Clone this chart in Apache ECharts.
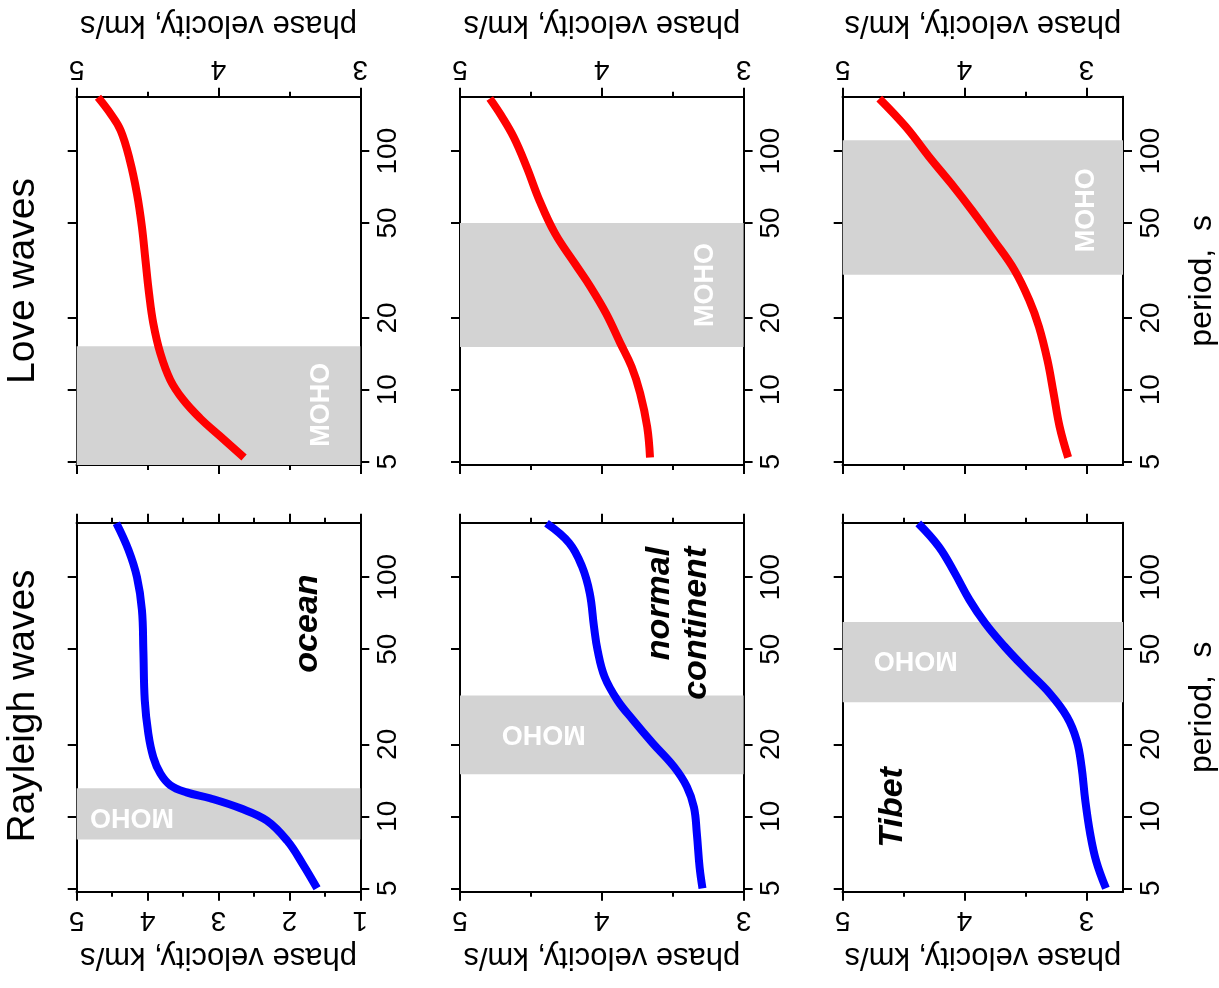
<!DOCTYPE html>
<html>

<head>
    <meta charset="utf-8" />
    <title>Surface wave dispersion</title>
    <script src="https://cdn.jsdelivr.net/npm/echarts@6/dist/echarts.min.js"></script>
    <style>
        html, body { margin: 0; padding: 0; background: #fff; }
        #main { width: 1219px; height: 988px; }
    </style>
</head>

<body>
    <div id="main"></div>
    <script type="text/javascript">
        // tick labels
        var periodTicks = [5, 10, 20, 50, 100];
        var velMajorTicks = [1, 2, 3, 4, 5];
        var velMinorTicks = [1.5, 2.5, 3.5, 4.5];
        var regionNames = ['ocean', 'normal\ncontinent', 'Tibet'];

        // Rayleigh waves: period (s) / phase velocity (km/s)
        var rayOceanT = [5, 6.3, 7.9, 9.6, 10.8, 11.9, 12.6, 13.5, 15.1, 17.7, 22.2, 30.6, 49.6, 72.9, 100, 130, 168];
        var rayOceanV = [1.61, 1.81, 2.03, 2.32, 2.69, 3.12, 3.45, 3.68, 3.82, 3.92, 3.99, 4.04, 4.06, 4.08, 4.15, 4.27, 4.44];
        var rayNormalT = [5.0, 6.1, 8.5, 10.9, 13.3, 16.1, 20.2, 25.3, 30.6, 38.3, 49.6, 62.1, 85.7, 111, 139, 168];
        var rayNormalV = [3.29, 3.31, 3.33, 3.35, 3.40, 3.49, 3.64, 3.78, 3.89, 3.98, 4.03, 4.055, 4.085, 4.14, 4.23, 4.39];
        var rayTibetT = [5.0, 6.5, 8.5, 11.7, 16.1, 20.8, 26.1, 32.6, 40.9, 51.2, 64.1, 80.4, 104, 134, 168];
        var rayTibetV = [2.84, 2.92, 2.97, 3.01, 3.04, 3.08, 3.16, 3.30, 3.49, 3.67, 3.83, 3.96, 4.08, 4.21, 4.38];

        // Love waves
        var loveOceanT = [5.2, 6.4, 7.6, 9.1, 11.0, 14.2, 19.0, 25.4, 34.9, 48.1, 66.3, 91.4, 122, 143, 168];
        var loveOceanV = [3.82, 3.99, 4.13, 4.25, 4.34, 4.41, 4.46, 4.49, 4.515, 4.54, 4.575, 4.625, 4.69, 4.76, 4.85];
        var loveNormalT = [5.2, 7.0, 9.7, 12.5, 15.7, 20.9, 27.0, 33.8, 45.2, 62.2, 85.8, 114, 141, 166];
        var loveNormalV = [3.66, 3.68, 3.73, 3.79, 3.87, 3.97, 4.08, 4.19, 4.33, 4.44, 4.53, 4.62, 4.71, 4.79];
        var loveTibetT = [5.2, 7.0, 9.7, 13.3, 18.4, 23.8, 31.7, 42.3, 56.5, 73.1, 94.5, 126, 166];
        var loveTibetV = [3.15, 3.22, 3.27, 3.32, 3.39, 3.47, 3.59, 3.76, 3.94, 4.11, 4.29, 4.48, 4.70];

        // Moho period bands (s)
        var periodMin = 4.84, periodMax = 169;
        var rayMoho = [[8.0, 13.1], [15.0, 32.0], [30.0, 65.0]];
        var loveMoho = [[periodMin, 15.2], [15.1, 50.0], [30.3, 111]];

        // label anchor points [velocity, period]
        var rayMohoPos = [[4.22, 10.0], [4.41, 22.2], [4.40, 45.3]];
        var loveMohoPos = [[3.27, 8.65], [3.27, 27.5], [3.0, 56.5]];
        var regionPos = [[1.75, 64], [3.46, 134], [4.59, 10.9]];

        var velMin = { love: [3, 3, 2.7], ray: [1, 3, 2.7] };

        var FONT = "'Liberation Sans', Arial, sans-serif";
        var lg = function (t) { return Math.log10(t); };

        var colLeft = [76.7, 460, 842.7];
        var colWidth = 283.6;
        var rowTop = { love: 96.7, ray: 522.7 };
        var rowHeight = { love: 368.3, ray: 369 };

        var grids = [], xAxes = [], yAxes = [], series = [];

        function addPanel(row, col, T, V, moho, mohoPos, color) {
            var gi = grids.length;
            grids.push({ left: colLeft[col], top: rowTop[row], width: colWidth, height: rowHeight[row], containLabel: false });
            var vmin = velMin[row][col];
            var majors = velMajorTicks.filter(function (v) { return v >= vmin && v <= 5; });
            var minors = velMinorTicks.filter(function (v) { return v >= vmin && v <= 5; });
            var labelSide = row === 'love' ? 'top' : 'bottom';
            var otherSide = row === 'love' ? 'bottom' : 'top';
            var mainX = xAxes.length;
            [[labelSide, majors, 9, true], [otherSide, majors, 9, false],
             [labelSide, minors, 5, false], [otherSide, minors, 5, false]].forEach(function (a) {
                var ax = {
                    type: 'value', gridIndex: gi, position: a[0], inverse: true,
                    min: vmin, max: 5,
                    axisLine: { show: true, onZero: false, lineStyle: { color: '#000', width: 2 } },
                    axisTick: { show: true, length: a[2], customValues: a[1], lineStyle: { color: '#000', width: 2 } },
                    axisLabel: {
                        show: a[3], customValues: a[1], rotate: 180, margin: 14,
                        color: '#000', fontSize: 28, fontFamily: FONT
                    },
                    splitLine: { show: false }
                };
                if (a[3]) {
                    ax.name = 'phase velocity, km/s';
                    ax.nameLocation = 'middle';
                    ax.nameRotate = 180;
                    ax.nameGap = row === 'love' ? 72 : 65;
                    ax.nameTextStyle = { color: '#000', fontSize: 31, fontFamily: FONT, align: 'center', verticalAlign: 'middle' };
                }
                xAxes.push(ax);
            });
            var mainY = yAxes.length;
            ['right', 'left'].forEach(function (pos) {
                var ay = {
                    type: 'value', gridIndex: gi, position: pos,
                    min: lg(periodMin), max: lg(periodMax),
                    axisLine: { show: true, onZero: false, lineStyle: { color: '#000', width: 2 } },
                    axisTick: { show: true, length: 9, customValues: periodTicks.map(lg), lineStyle: { color: '#000', width: 2 } },
                    axisLabel: {
                        show: pos === 'right', customValues: periodTicks.map(lg), rotate: 90, margin: 14,
                        color: '#000', fontSize: 28, fontFamily: FONT,
                        formatter: function (v) { return Math.round(Math.pow(10, v)); }
                    },
                    splitLine: { show: false }
                };
                if (pos === 'right' && col === 2) {
                    ay.name = 'period,  s';
                    ay.nameLocation = 'middle';
                    ay.nameRotate = 90;
                    ay.nameGap = 79;
                    ay.nameTextStyle = { color: '#000', fontSize: 32, fontFamily: FONT, align: 'center', verticalAlign: 'middle' };
                }
                yAxes.push(ay);
            });

            var marks = [{
                coord: [mohoPos[0], lg(mohoPos[1])],
                label: {
                    formatter: 'MOHO', rotate: row === 'love' ? 90 : 180,
                    color: '#fff', fontSize: 27, fontWeight: 'bold', fontFamily: FONT
                }
            }];
            if (row === 'ray') {
                marks.push({
                    coord: [regionPos[col][0], lg(regionPos[col][1])],
                    label: {
                        formatter: regionNames[col], rotate: 90,
                        align: col === 1 ? 'right' : 'center',
                        color: '#000', fontSize: 34, fontWeight: 'bold', fontStyle: 'italic',
                        fontFamily: FONT, lineHeight: 37
                    }
                });
            }

            series.push({
                type: 'line', xAxisIndex: mainX, yAxisIndex: mainY,
                data: T.map(function (t, i) { return [V[i], lg(t)]; }),
                smooth: 0.4, showSymbol: false, symbol: 'none',
                lineStyle: { color: color, width: 8 },
                markArea: {
                    silent: true,
                    itemStyle: { color: '#d3d3d3' },
                    label: { show: false },
                    data: [[{ yAxis: lg(moho[0]) }, { yAxis: lg(moho[1]) }]]
                },
                markPoint: {
                    silent: true, symbol: 'circle', symbolSize: 1,
                    itemStyle: { color: 'rgba(0,0,0,0)' },
                    label: { show: true, position: 'inside' },
                    data: marks
                },
                z: 3
            });
        }

        addPanel('love', 0, loveOceanT, loveOceanV, loveMoho[0], loveMohoPos[0], '#ff0000');
        addPanel('love', 1, loveNormalT, loveNormalV, loveMoho[1], loveMohoPos[1], '#ff0000');
        addPanel('love', 2, loveTibetT, loveTibetV, loveMoho[2], loveMohoPos[2], '#ff0000');
        addPanel('ray', 0, rayOceanT, rayOceanV, rayMoho[0], rayMohoPos[0], '#0000ff');
        addPanel('ray', 1, rayNormalT, rayNormalV, rayMoho[1], rayMohoPos[1], '#0000ff');
        addPanel('ray', 2, rayTibetT, rayTibetV, rayMoho[2], rayMohoPos[2], '#0000ff');

        var myChart = echarts.init(document.getElementById('main'));
        myChart.setOption({
            animation: false,
            backgroundColor: '#fff',
            textStyle: { fontFamily: FONT },
            grid: grids,
            xAxis: xAxes,
            yAxis: yAxes,
            series: series,
            graphic: [
                { type: 'text', x: 23, y: 281, rotation: Math.PI / 2,
                  style: { text: 'Love waves', fontSize: 39, fontFamily: FONT, fill: '#000', align: 'center', verticalAlign: 'middle' } },
                { type: 'text', x: 23, y: 706, rotation: Math.PI / 2,
                  style: { text: 'Rayleigh waves', fontSize: 39, fontFamily: FONT, fill: '#000', align: 'center', verticalAlign: 'middle' } }
            ]
        });
    </script>
</body>

</html>
